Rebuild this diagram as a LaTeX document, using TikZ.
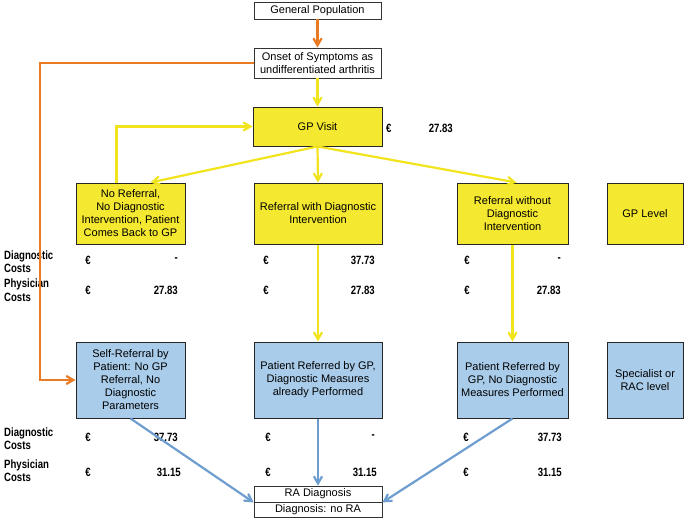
\documentclass[tikz,border=0pt]{standalone}
\usepackage{fontspec}
\setmainfont{Liberation Sans}
\newfontfamily\costfont[FakeStretch=0.8]{Liberation Sans}
\usepackage{xcolor}
\usetikzlibrary{shapes.geometric, arrows}
\usetikzlibrary{positioning}
\definecolor{gpyellow}{HTML}{F4E830}
\definecolor{racblue}{HTML}{A9CCEA}
\definecolor{lineyellow}{HTML}{F2E41C}
\definecolor{lineorange}{HTML}{E97B25}
\definecolor{lineblue}{HTML}{6E9DCF}
\tikzstyle{plainbox} = [rectangle, draw=black!80, line width=0.8pt, fill=white, text centered, inner sep=1pt, font=\fontsize{11}{13}\selectfont]
\tikzstyle{gpbox} = [plainbox, fill=gpyellow, draw=black!85, line width=1pt, minimum height=61pt, align=center]
\tikzstyle{racbox} = [plainbox, fill=racblue, draw=black!85, line width=1pt, minimum height=76pt, align=center]
\tikzstyle{costlabel} = [anchor=west, align=left, inner sep=0pt, font=\costfont\bfseries\fontsize{12}{13.5}\selectfont]
\tikzstyle{cost} = [inner sep=0pt, font=\costfont\bfseries\fontsize{12}{12}\selectfont]
\tikzstyle{yarrow} = [->, >=angle 60, draw=lineyellow, line width=2.2pt]
\tikzstyle{oarrow} = [->, >=angle 60, draw=lineorange, line width=2.2pt]
\tikzstyle{barrow} = [->, >=angle 60, draw=lineblue, line width=2.2pt]

\begin{document}
\begin{tikzpicture}[x=1pt, y=-1pt]
  \useasboundingbox (0,0) rectangle (685,519);

  \node[plainbox, minimum width=127pt, minimum height=17pt] (genpop) at (317.5,10.5) {General Population};
  \node[plainbox, minimum width=127pt, minimum height=30pt, align=center] (onset) at (317.5,63) {Onset of Symptoms as\\undifferentiated arthritis};
  \node[gpbox, minimum width=129pt, minimum height=39pt] (gpvisit) at (317.5,126.5) {GP Visit};

  \node[gpbox, minimum width=109pt] (noref) at (130.5,213.5) {No Referral,\\No Diagnostic\\Intervention, Patient\\Comes Back to GP};
  \node[gpbox, minimum width=128pt] (refdiag) at (318,213.5) {Referral with Diagnostic\\Intervention};
  \node[gpbox, minimum width=111pt] (refnodiag) at (512.5,213.5) {Referral without\\Diagnostic\\Intervention};
  \node[gpbox, minimum width=76pt] (gplevel) at (645,213.5) {GP Level};

  \node[racbox, minimum width=109pt] (selfref) at (130.5,380) {Self-Referral by\\Patient: No GP\\Referral, No\\Diagnostic\\Parameters};
  \node[racbox, minimum width=128pt] (patdiag) at (318,380) {Patient Referred by GP,\\Diagnostic Measures\\already Performed};
  \node[racbox, minimum width=111pt] (patnodiag) at (512.5,380) {Patient Referred by\\GP, No Diagnostic\\Measures Performed};
  \node[racbox, minimum width=76pt] (speclevel) at (645,380) {Specialist or\\RAC level};

  \node[plainbox, minimum width=128pt, minimum height=16pt] (radiag) at (318,494) {RA Diagnosis};
  \node[plainbox, minimum width=128pt, minimum height=15pt] (noradiag) at (318,509.5) {Diagnosis: no RA};

  % costs at GP level
  \node[cost, anchor=west] (gpeuro) at (386,128) {€};
  \node[cost, anchor=east] (gpcost) at (453,128) {27.83};

  \node[costlabel] (diaglab1) at (4,261.5) {Diagnostic\\Costs};
  \node[costlabel] (physlab1) at (4,290) {Physician\\Costs};
  \node[cost] (e1) at (88,260) {€};
  \node[cost, anchor=east] (d1) at (178,260) {-};
  \node[cost] (e2) at (88,290) {€};
  \node[cost, anchor=east] (p1) at (178,290) {27.83};
  \node[cost] (e3) at (266,260) {€};
  \node[cost, anchor=east] (d2) at (375,260) {37.73};
  \node[cost] (e4) at (266,290) {€};
  \node[cost, anchor=east] (p2) at (375,290) {27.83};
  \node[cost] (e5) at (467,260) {€};
  \node[cost, anchor=east] (d3) at (561,260) {-};
  \node[cost] (e6) at (467,290) {€};
  \node[cost, anchor=east] (p3) at (561,290) {27.83};

  % costs at specialist level
  \node[costlabel] (diaglab2) at (4,438.5) {Diagnostic\\Costs};
  \node[costlabel] (physlab2) at (4,470.5) {Physician\\Costs};
  \node[cost] (e7) at (88,437) {€};
  \node[cost, anchor=east] (d4) at (178,437) {37.73};
  \node[cost] (e8) at (88,472) {€};
  \node[cost, anchor=east] (p4) at (181,472) {31.15};
  \node[cost] (e9) at (268,437) {€};
  \node[cost, anchor=east] (d5) at (375,437) {-};
  \node[cost] (e10) at (268,472) {€};
  \node[cost, anchor=east] (p5) at (377,472) {31.15};
  \node[cost] (e11) at (466,437) {€};
  \node[cost, anchor=east] (d6) at (562,437) {37.73};
  \node[cost] (e12) at (466,472) {€};
  \node[cost, anchor=east] (p6) at (562,472) {31.15};

  \path[oarrow] (genpop) edge (onset);
  \draw[oarrow] (onset.west) -- ++(-214,0) |- (selfref.west);
  \path[yarrow] (onset) edge (gpvisit);
  \draw[yarrow] (gpvisit.south) -- ([xshift=20pt]noref.north);
  \draw[yarrow] (gpvisit.south) -- (refdiag.north);
  \draw[yarrow] (gpvisit.south) -- ([xshift=4pt]refnodiag.north);
  \draw[yarrow] ([xshift=-14pt]noref.north) |- (gpvisit.west);
  \path[yarrow] (refdiag) edge (patdiag);
  \path[yarrow] (refnodiag) edge (patnodiag);
  \draw[barrow] (selfref.south) -- (radiag.south west);
  \draw[barrow] (patdiag.south) -- (radiag.north);
  \draw[barrow] (patnodiag.south) -- (radiag.south east);
\end{tikzpicture}
\end{document}
